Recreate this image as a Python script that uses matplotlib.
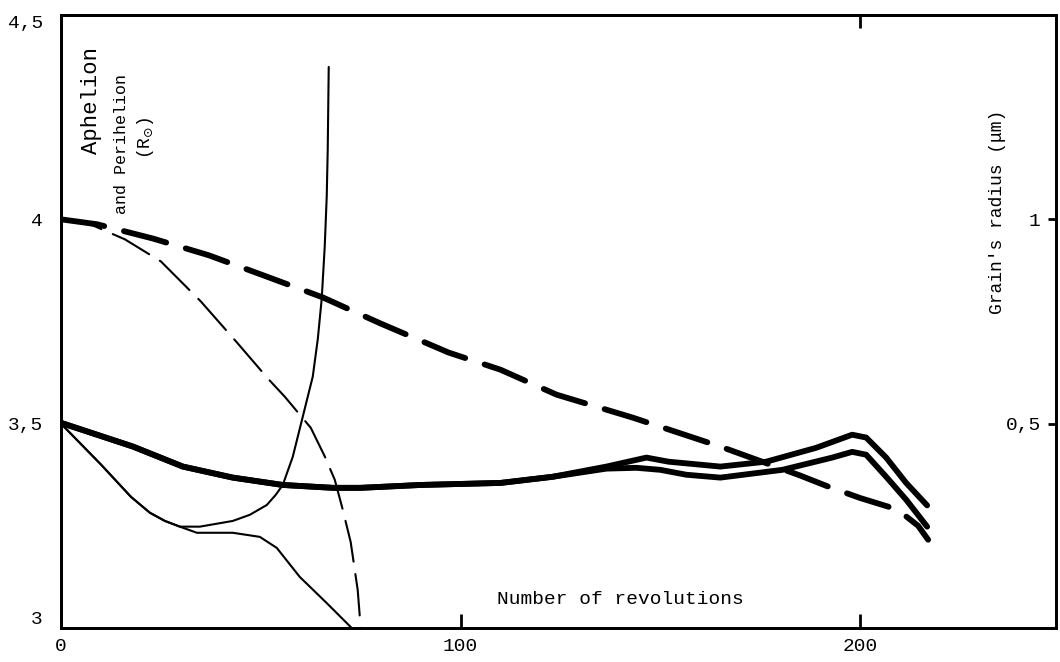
import matplotlib
matplotlib.use("Agg")
import matplotlib.pyplot as plt

# ---------------- data ----------------
# thick dashed curve
thick_dash_x = [0, 9, 23, 37, 52, 65.5, 80, 97, 110, 124, 143, 165, 176, 185, 192, 200, 207, 211, 214.5, 217]
thick_dash_y = [4.0, 3.988, 3.953, 3.912, 3.858, 3.809, 3.745, 3.674, 3.632, 3.571, 3.515, 3.444, 3.405,
                3.373, 3.346, 3.318, 3.297, 3.277, 3.25, 3.216]

# thin dashed curve
thin_dash_x = [0, 8, 16, 25, 35, 44, 52, 56, 62.5, 66, 68.5, 70.5, 72.5, 74.25, 75]
thin_dash_y = [4.0, 3.985, 3.951, 3.897, 3.799, 3.699, 3.608, 3.566, 3.49, 3.42, 3.363, 3.29, 3.21, 3.093, 3.0]

# thin solid curve rising steeply
thin_up_x = [0, 10, 17.5, 22.25, 26, 29.75, 34.75, 43, 47.25, 51.5, 53.75, 55.5, 58, 60.5, 63, 64.25,
             65.25, 66, 66.5, 66.75, 67]
thin_up_y = [3.5, 3.40, 3.321, 3.282, 3.262, 3.248, 3.248, 3.262, 3.277, 3.301, 3.326, 3.350, 3.419,
             3.517, 3.615, 3.706, 3.806, 3.934, 4.056, 4.172, 4.373]

# thin solid curve falling
thin_down_x = [0, 10, 17.5, 22.25, 26, 29.75, 34, 43, 49.75, 54, 59.75, 66.5, 72.75]
thin_down_y = [3.5, 3.40, 3.321, 3.282, 3.262, 3.248, 3.233, 3.233, 3.223, 3.196, 3.125, 3.061, 3.0]

# thick solid curves (upper and lower branch)
thick_up_x = [0, 18, 30.5, 43, 55.5, 68, 75, 90, 110, 123, 136.5, 146.5, 152, 165, 176.5, 189, 198,
              201.5, 206.5, 211.5, 216.75]
thick_up_y = [3.502, 3.444, 3.395, 3.368, 3.350, 3.343, 3.343, 3.350, 3.355, 3.370, 3.395, 3.417, 3.407,
              3.395, 3.407, 3.441, 3.473, 3.466, 3.417, 3.355, 3.30]
thick_low_x = [0, 18, 30.5, 43, 55.5, 68, 75, 90, 110, 123, 136.5, 144, 150, 156.5, 165, 180.5, 193, 198,
               201.5, 206.5, 211.5, 216.75]
thick_low_y = [3.502, 3.444, 3.395, 3.368, 3.350, 3.343, 3.343, 3.350, 3.355, 3.370, 3.390, 3.392, 3.387,
               3.375, 3.368, 3.387, 3.417, 3.431, 3.424, 3.370, 3.314, 3.248]

x_ticks = [0, 100, 200]
x_tick_labels = ["0", "100", "200"]
y_ticks = [3.0, 3.5, 4.0, 4.5]
y_tick_labels = ["3", "3,5", "4", "4,5"]
r_ticks = [0.5, 1.0]
r_tick_labels = ["0,5", "1"]

# ---------------- figure ----------------
MONO = "Liberation Mono"
plt.rcParams["font.family"] = [MONO, "DejaVu Sans"]

W, H = 1060, 662
fig = plt.figure(figsize=(W / 100, H / 100), dpi=100)
ax = fig.add_axes([61 / W, 1 - 628 / H, (1056 - 61) / W, (628 - 15) / H])
ax.set_xlim(0, 249)
ax.set_ylim(3.0, 4.5)

cap = dict(solid_capstyle="round", dash_capstyle="round", solid_joinstyle="round", color="black")
ax.plot(thick_dash_x, thick_dash_y, lw=4.2, dashes=(7.5, 3.5), **cap)
ax.plot(thin_dash_x, thin_dash_y, lw=1.5, dashes=(20, 6), **cap)
ax.plot(thin_up_x, thin_up_y, lw=1.5, **cap)
ax.plot(thin_down_x, thin_down_y, lw=1.5, **cap)
ax.plot(thick_up_x, thick_up_y, lw=4.2, **cap)
ax.plot(thick_low_x, thick_low_y, lw=4.2, **cap)

for s in ax.spines.values():
    s.set_linewidth(2)

ax.set_xticks(x_ticks)
ax.set_xticklabels(x_tick_labels, fontsize=14, family=MONO)
ax.tick_params(axis="x", direction="in", length=10, width=2, pad=7)
ax.set_yticks(y_ticks)
ax.set_yticklabels(y_tick_labels, fontsize=14, family=MONO)
ax.tick_params(axis="y", length=0, pad=13)
ylabs = ax.get_yticklabels()
ylabs[0].set_verticalalignment("bottom")
ylabs[-1].set_verticalalignment("top")

top = ax.secondary_xaxis("top")
top.set_xticks([200])
top.set_xticklabels([])
top.tick_params(direction="in", length=9, width=2)
top.spines["top"].set_linewidth(2)

ax2 = ax.twinx()
ax2.set_ylim(0, 1.5)
ax2.set_yticks(r_ticks)
ax2.set_yticklabels(r_tick_labels, fontsize=14, family=MONO)
ax2.tick_params(axis="y", direction="in", length=6, width=2, pad=-11)
for t in ax2.get_yticklabels():
    t.set_horizontalalignment("right")
for s in ax2.spines.values():
    s.set_linewidth(2)

ax.text(140, 3.069, "Number of revolutions", fontsize=14, family=MONO, ha="center", va="center")

def fx(px):
    return px / W

def fy(py):
    return 1 - py / H

fig.text(fx(92), fy(100), "Aphelion", rotation=90, fontsize=16, family=MONO, ha="center", va="center")
fig.text(fx(121), fy(144), "and Perihelion", rotation=90, fontsize=12, family=MONO,
         ha="center", va="center")
fig.text(fx(146), fy(138), r"(R$_{\odot}$)", rotation=90, fontsize=13, family=MONO,
         ha="center", va="center")
fig.text(fx(998), fy(212), "Grain's radius (μm)", rotation=90, fontsize=13, family=MONO,
         ha="center", va="center")

fig.savefig("out.png", dpi=100)
